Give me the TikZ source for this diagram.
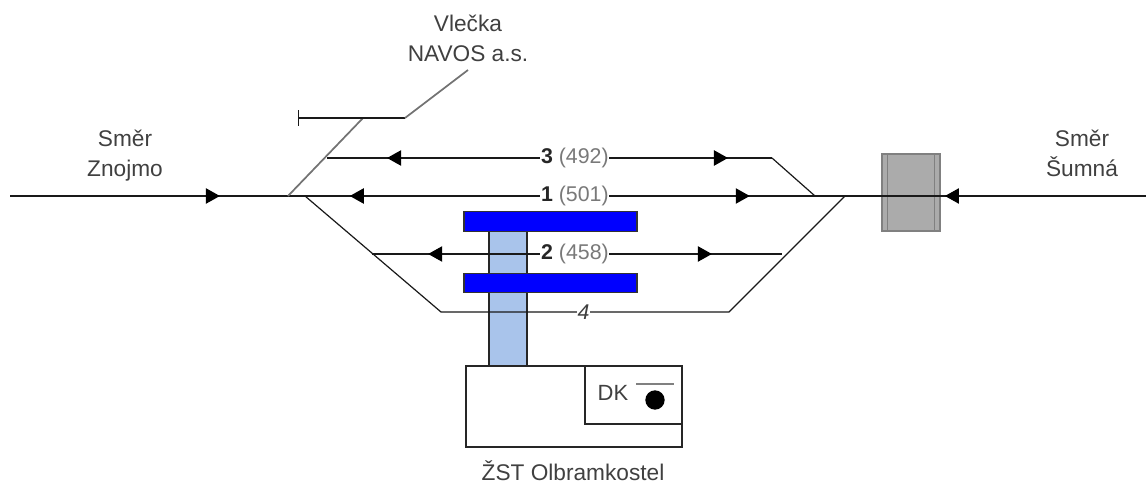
\documentclass[tikz,border=0pt]{standalone}
\usepackage{fontspec}
\setmainfont{Liberation Sans}
\usetikzlibrary{arrows.meta,decorations.markings}
\definecolor{columnblue}{HTML}{A9C4EB}
\definecolor{tunnelgray}{HTML}{ABABAB}
\definecolor{labelgray}{HTML}{404040}
\tikzset{
    track/.style={draw=black!90, line width=0.9pt},
    spur/.style={draw=black!55, line width=1.3pt},
    tracktips/.style 2 args={postaction={decorate}, decoration={markings,
        mark=at position #1 with {\arrowreversed[black]{Triangle[length=10.5pt,width=11.5pt]}},
        mark=at position #2 with {\arrow[black]{Triangle[length=10.5pt,width=11.5pt]}}}},
    tiponly/.style={postaction={decorate}, decoration={markings,
        mark=at position #1 with {\arrow[black]{Triangle[length=10.5pt,width=11.5pt]}}}},
    tracklabel/.style={fill=white, inner sep=0.5pt, text=labelgray!70, font=\fontsize{16pt}{18pt}\selectfont},
    placelabel/.style={align=center, inner sep=0pt, text=labelgray, font=\fontsize{17pt}{22.5pt}\selectfont},
    platform/.style={draw=black!80, fill=blue, line width=0.8pt, minimum width=129.75pt, minimum height=14.5pt, inner sep=0pt},
}
\newcommand{\tracknum}[2]{\textcolor{black!85}{\textbf{#1}} (#2)}
\begin{document}
\begin{tikzpicture}[x=0.75pt, y=-0.75pt]
    \useasboundingbox (0,0) rectangle (1146,484);

    % Define the switches and ends of the tracks
    \coordinate (west) at (10,196);
    \coordinate (swA) at (288,196);
    \coordinate (swB) at (305,196);
    \coordinate (swC) at (845,196);
    \coordinate (swD) at (815,196);
    \coordinate (east) at (1146,196);
    \coordinate (spurTop) at (363,118);
    \coordinate (spurEnd) at (298,118);
    \coordinate (spurBend) at (405,118);
    \coordinate (spurOut) at (468,70);
    \coordinate (threeW) at (327,158);
    \coordinate (threeE) at (772,158);
    \coordinate (twoW) at (372,254);
    \coordinate (twoE) at (782,254);
    \coordinate (fourW) at (441,312);
    \coordinate (fourE) at (729,312);

    % Draw the station building and the column below the tracks
    \node[draw=black!85, line width=1pt, minimum width=162pt, minimum height=60.75pt, inner sep=0pt] (station) at (574,406.5) {};
    \node[draw=black!85, line width=1pt, minimum width=72.75pt, minimum height=43.5pt, inner sep=0pt, anchor=north east] (dkbox) at (station.north east) {};
    \node[draw=black!85, fill=columnblue, line width=0.9pt, minimum width=28.5pt, minimum height=101.25pt, inner sep=0pt] (column) at (508,298.5) {};
    \node[text=labelgray, font=\fontsize{16.5pt}{18pt}\selectfont] (dk) at (613,393) {DK};
    \draw[black!50, line width=1.3pt] (636,384) -- (674,384);
    \node[circle, fill=black, minimum size=14.5pt, inner sep=0pt] (lamp) at (655,400) {};

    % Draw the gray tunnel
    \node[draw=black!50, fill=tunnelgray, line width=0.8pt, minimum width=43.5pt, minimum height=57.75pt, inner sep=0pt] (tunnel) at (911,192.5) {};
    \draw[black!50, line width=0.8pt] ([xshift=4.5pt]tunnel.north west) -- ([xshift=4.5pt]tunnel.south west);
    \draw[black!50, line width=0.8pt] ([xshift=-4.5pt]tunnel.north east) -- ([xshift=-4.5pt]tunnel.south east);

    % Draw the tracks
    \draw[track, tiponly=0.755] (west) -- (swA);
    \draw[track, tiponly=0.668] (east) -- (swC);
    \draw[track, tracktips={0.111}{0.829}] (swA) -- node[tracklabel, pos=0.515]{\tracknum{1}{501}} (swC);
    \draw[track, tracktips={0.135}{0.901}] (threeW) -- node[tracklabel, pos=0.557]{\tracknum{3}{492}} (threeE);
    \draw[track] (threeE) -- (swD);
    \draw[track, tracktips={0.137}{0.829}] (twoW) -- node[tracklabel, pos=0.495]{\tracknum{2}{458}} (twoE);
    \draw[track] (swB) -- (fourW) -- node[tracklabel, pos=0.495, text=labelgray]{\textit{4}} (fourE) -- (swC);

    % Draw the siding
    \draw[spur] (swA) -- (spurTop);
    \draw[track, {Bar[width=12pt]}-] (spurEnd) -- (spurBend);
    \draw[spur] (spurBend) -- (spurOut);

    % Draw the platforms over the tracks
    \node[platform] (platformA) at (550.5,221.5) {};
    \node[platform] (platformB) at (550.5,283) {};

    % Labels
    \node[placelabel] (znojmo) at (125,156) {Směr\\Znojmo};
    \node[placelabel] (sumna) at (1082,153) {Směr\\Šumná};
    \node[placelabel] (navos) at (468,38) {Vlečka\\NAVOS a.s.};
    \node[placelabel] (zst) at (573,471) {ŽST Olbramkostel};
\end{tikzpicture}
\end{document}
